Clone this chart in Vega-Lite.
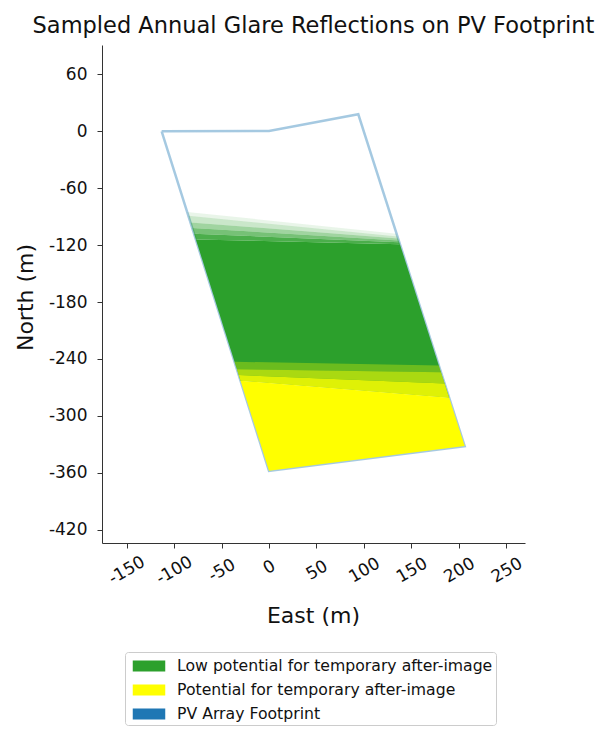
{
  "$schema": "https://vega.github.io/schema/vega-lite/v6.json",
  "autosize": {"type": "none"},
  "padding": {"left": 102, "top": 45, "right": 71, "bottom": 186},
  "width": 423,
  "height": 498,
  "background": "white",
  "config": {
    "view": {"stroke": null},
    "font": "DejaVu Sans",
    "axis": {"labelFont": "DejaVu Sans", "titleFont": "DejaVu Sans", "grid": false, "domainColor": "#333", "tickColor": "#333", "labelColor": "#111", "titleColor": "#111", "titleFontWeight": "normal"}
  },
  "title": {"text": "Sampled Annual Glare Reflections on PV Footprint", "anchor": "middle", "fontSize": 22.5, "font": "DejaVu Sans", "fontWeight": "normal", "color": "#111", "baseline": "alphabetic", "offset": -10},
  "data": {"values": [
    {"kind": "fill", "cat": "Low potential for temporary after-image", "poly": "f1", "share": 0.1, "v": 0, "x": -86.17, "y": -85},
    {"kind": "fill", "cat": "Low potential for temporary after-image", "poly": "f1", "share": 0.1, "v": 1, "x": 134.32, "y": -108},
    {"kind": "fill", "cat": "Low potential for temporary after-image", "poly": "f1", "share": 0.1, "v": 2, "x": 135.28, "y": -111},
    {"kind": "fill", "cat": "Low potential for temporary after-image", "poly": "f1", "share": 0.1, "v": 3, "x": -84.9, "y": -89},
    {"kind": "fill", "cat": "Low potential for temporary after-image", "poly": "f2", "share": 0.25, "v": 0, "x": -84.9, "y": -89},
    {"kind": "fill", "cat": "Low potential for temporary after-image", "poly": "f2", "share": 0.25, "v": 1, "x": 135.28, "y": -111},
    {"kind": "fill", "cat": "Low potential for temporary after-image", "poly": "f2", "share": 0.25, "v": 2, "x": 135.92, "y": -113},
    {"kind": "fill", "cat": "Low potential for temporary after-image", "poly": "f2", "share": 0.25, "v": 3, "x": -82.7, "y": -96},
    {"kind": "fill", "cat": "Low potential for temporary after-image", "poly": "f3", "share": 0.45, "v": 0, "x": -82.7, "y": -96},
    {"kind": "fill", "cat": "Low potential for temporary after-image", "poly": "f3", "share": 0.45, "v": 1, "x": 135.92, "y": -113},
    {"kind": "fill", "cat": "Low potential for temporary after-image", "poly": "f3", "share": 0.45, "v": 2, "x": 136.56, "y": -115},
    {"kind": "fill", "cat": "Low potential for temporary after-image", "poly": "f3", "share": 0.45, "v": 3, "x": -80.8, "y": -102},
    {"kind": "fill", "cat": "Low potential for temporary after-image", "poly": "f4", "share": 0.65, "v": 0, "x": -80.8, "y": -102},
    {"kind": "fill", "cat": "Low potential for temporary after-image", "poly": "f4", "share": 0.65, "v": 1, "x": 136.56, "y": -115},
    {"kind": "fill", "cat": "Low potential for temporary after-image", "poly": "f4", "share": 0.65, "v": 2, "x": 137.2, "y": -117},
    {"kind": "fill", "cat": "Low potential for temporary after-image", "poly": "f4", "share": 0.65, "v": 3, "x": -78.9, "y": -108},
    {"kind": "fill", "cat": "Low potential for temporary after-image", "poly": "f5", "share": 0.85, "v": 0, "x": -78.9, "y": -108},
    {"kind": "fill", "cat": "Low potential for temporary after-image", "poly": "f5", "share": 0.85, "v": 1, "x": 137.2, "y": -117},
    {"kind": "fill", "cat": "Low potential for temporary after-image", "poly": "f5", "share": 0.85, "v": 2, "x": 137.84, "y": -119},
    {"kind": "fill", "cat": "Low potential for temporary after-image", "poly": "f5", "share": 0.85, "v": 3, "x": -77.0, "y": -114},
    {"kind": "fill", "cat": "Low potential for temporary after-image", "poly": "g", "share": 1, "v": 0, "x": -77.0, "y": -114},
    {"kind": "fill", "cat": "Low potential for temporary after-image", "poly": "g", "share": 1, "v": 1, "x": 137.84, "y": -119},
    {"kind": "fill", "cat": "Low potential for temporary after-image", "poly": "g", "share": 1, "v": 2, "x": 189.68, "y": -281},
    {"kind": "fill", "cat": "Low potential for temporary after-image", "poly": "g", "share": 1, "v": 3, "x": -29.99, "y": -263},
    {"kind": "fill", "cat": "Potential for temporary after-image", "poly": "y1", "share": 0.3, "v": 0, "x": -36.3, "y": -243},
    {"kind": "fill", "cat": "Potential for temporary after-image", "poly": "y1", "share": 0.3, "v": 1, "x": 178.8, "y": -247},
    {"kind": "fill", "cat": "Potential for temporary after-image", "poly": "y1", "share": 0.3, "v": 2, "x": 181.04, "y": -254},
    {"kind": "fill", "cat": "Potential for temporary after-image", "poly": "y1", "share": 0.3, "v": 3, "x": -33.78, "y": -251},
    {"kind": "fill", "cat": "Potential for temporary after-image", "poly": "y2", "share": 0.6, "v": 0, "x": -33.78, "y": -251},
    {"kind": "fill", "cat": "Potential for temporary after-image", "poly": "y2", "share": 0.6, "v": 1, "x": 181.04, "y": -254},
    {"kind": "fill", "cat": "Potential for temporary after-image", "poly": "y2", "share": 0.6, "v": 2, "x": 184.88, "y": -266},
    {"kind": "fill", "cat": "Potential for temporary after-image", "poly": "y2", "share": 0.6, "v": 3, "x": -31.88, "y": -257},
    {"kind": "fill", "cat": "Potential for temporary after-image", "poly": "y3", "share": 0.85, "v": 0, "x": -31.88, "y": -257},
    {"kind": "fill", "cat": "Potential for temporary after-image", "poly": "y3", "share": 0.85, "v": 1, "x": 184.88, "y": -266},
    {"kind": "fill", "cat": "Potential for temporary after-image", "poly": "y3", "share": 0.85, "v": 2, "x": 189.68, "y": -281},
    {"kind": "fill", "cat": "Potential for temporary after-image", "poly": "y3", "share": 0.85, "v": 3, "x": -29.99, "y": -263},
    {"kind": "fill", "cat": "Potential for temporary after-image", "poly": "y4", "share": 1, "v": 0, "x": -29.99, "y": -263},
    {"kind": "fill", "cat": "Potential for temporary after-image", "poly": "y4", "share": 1, "v": 1, "x": 189.68, "y": -281},
    {"kind": "fill", "cat": "Potential for temporary after-image", "poly": "y4", "share": 1, "v": 2, "x": 206, "y": -332},
    {"kind": "fill", "cat": "Potential for temporary after-image", "poly": "y4", "share": 1, "v": 3, "x": 0, "y": -358},
    {"kind": "outline", "cat": "PV Array Footprint", "poly": "pv", "share": 1, "v": 0, "x": -113, "y": 0},
    {"kind": "outline", "cat": "PV Array Footprint", "poly": "pv", "share": 1, "v": 1, "x": 0, "y": 0.5},
    {"kind": "outline", "cat": "PV Array Footprint", "poly": "pv", "share": 1, "v": 2, "x": 94, "y": 18},
    {"kind": "outline", "cat": "PV Array Footprint", "poly": "pv", "share": 1, "v": 3, "x": 206, "y": -332},
    {"kind": "outline", "cat": "PV Array Footprint", "poly": "pv", "share": 1, "v": 4, "x": 0, "y": -358},
    {"kind": "outline", "cat": "PV Array Footprint", "poly": "pv", "share": 1, "v": 5, "x": -113, "y": 0}
  ]},
  "encoding": {
    "x": {"field": "x", "type": "quantitative", "scale": {"domain": [-175.8, 269.5], "nice": false, "zero": false},
      "axis": {"title": "East (m)", "values": [-150, -100, -50, 0, 50, 100, 150, 200, 250], "labelAngle": -30, "labelAlign": "center", "labelBaseline": "middle", "labelFontSize": 17, "tickSize": 5,
        "labelPadding": {"condition": {"test": "datum.value == 0", "value": 19}, "value": 22},
        "labelExpr": "replace(datum.label, '\u2212', '-')", "titleFontSize": 22, "titleX": 211, "titleY": 79, "titleBaseline": "alphabetic", "titleAlign": "center"}},
    "y": {"field": "y", "type": "quantitative", "scale": {"domain": [-434.2, 91.1], "nice": false, "zero": false},
      "axis": {"title": "North (m)", "values": [-420, -360, -300, -240, -180, -120, -60, 0, 60], "labelFontSize": 17, "tickSize": 5, "labelPadding": 10,
        "labelExpr": "replace(datum.label, '\u2212', '-')", "titleFontSize": 22, "titleX": -70, "titleY": 252, "titleBaseline": "alphabetic", "titleAlign": "center", "titleAngle": -90}},
    "color": {"field": "cat", "type": "nominal",
      "scale": {"domain": ["Low potential for temporary after-image", "Potential for temporary after-image", "PV Array Footprint"], "range": ["#2ca02c", "#ffff00", "#1f77b4"]},
      "legend": {"title": null, "orient": "none", "legendX": 23, "legendY": 607, "symbolType": "M-1.55,-0.465H1.55V0.465H-1.55Z", "symbolSize": 400, "symbolOffset": 10, "labelFontSize": 15.7, "labelFont": "DejaVu Sans", "labelColor": "#111", "labelOffset": 17, "labelLimit": 0, "strokeColor": "#cccccc", "cornerRadius": 3, "padding": 3, "rowPadding": 5,
        "encode": {"symbols": {"update": {"fill": {"scale": "color", "field": "value"}, "stroke": {"value": "transparent"}, "opacity": {"value": 1}, "fillOpacity": {"value": 1}}}}}},
    "detail": {"field": "poly"},
    "order": {"field": "v", "type": "quantitative"}
  },
  "layer": [
    {"transform": [{"filter": "datum.kind == 'outline'"}], "mark": {"type": "line", "strokeWidth": 2.5, "opacity": 0.4}},
    {"transform": [{"filter": "datum.cat == 'Low potential for temporary after-image'"}], "mark": {"type": "line", "filled": true, "interpolate": "linear-closed"},
      "encoding": {"opacity": {"field": "share", "type": "quantitative", "scale": {"domain": [0, 1], "range": [0, 1]}, "legend": null}}},
    {"transform": [{"filter": "datum.cat == 'Potential for temporary after-image'"}], "mark": {"type": "line", "filled": true, "interpolate": "linear-closed"},
      "encoding": {"opacity": {"field": "share", "type": "quantitative", "scale": {"domain": [0, 1], "range": [0, 1]}, "legend": null}}}
  ]
}
